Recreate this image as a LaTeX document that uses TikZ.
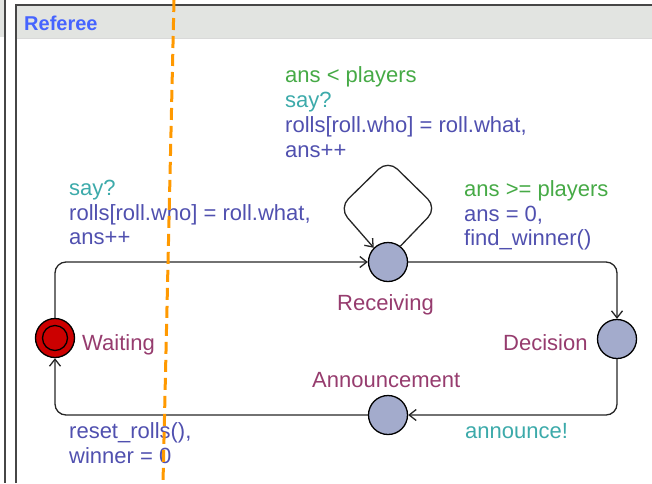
\documentclass[tikz,border=0pt]{standalone}
\usepackage{fontspec}
\setmainfont{Liberation Sans}
\usetikzlibrary{arrows.meta}

\definecolor{guardc}{RGB}{70,170,70}
\definecolor{syncc}{RGB}{60,170,170}
\definecolor{updc}{RGB}{80,80,175}
\definecolor{locc}{RGB}{150,60,110}
\definecolor{locfill}{RGB}{163,171,204}
\definecolor{initfill}{RGB}{204,0,0}
\definecolor{titlec}{RGB}{70,100,255}
\definecolor{headc}{RGB}{226,228,225}
\definecolor{framec}{RGB}{70,70,70}
\definecolor{cutc}{RGB}{255,153,0}

\begin{document}
\begin{tikzpicture}[x=1pt,y=-1pt,
  txt/.style={anchor=base west, inner sep=0pt, font=\fontsize{22}{25}\selectfont},
  locname/.style={txt, text=locc},
  guard/.style={txt, text=guardc},
  sync/.style={txt, text=syncc},
  upd/.style={txt, text=updc},
  loc/.style={circle, draw=black, line width=1.3pt, fill=locfill, minimum size=39pt, inner sep=0pt},
  initloc/.style={loc, fill=initfill},
  edge/.style={draw=black!85, line width=1.3pt, rounded corners=11pt,
    -{Straight Barb[length=7pt,width=11pt]}},
  framel/.style={draw=framec, line width=1.5pt},
  cut/.style={draw=cutc, line width=3pt, dash pattern=on 12pt off 6pt}]

\useasboundingbox (0,0) rectangle (652,483);

% window frame and header of the Referee template
\fill[headc] (0,0) rectangle (5,37);
\fill[headc] (16,5) rectangle (652,38);
\draw[black!15, line width=0.8pt] (16,38.5) -- (652,38.5);
\draw[framel] (5,0) -- (5,483);
\draw[framel] (16,483) -- (16,5) -- (652,5);
\node[anchor=base west, inner sep=0pt, text=titlec, font=\fontsize{20}{22}\selectfont\bfseries] (title) at (24,30) {Referee};

% locations
\node[initloc] (wait) at (55,338) {};
\draw[line width=1.3pt] (wait.center) circle (12.5);
\node[loc] (rcv) at (388,262) {};
\node[loc] (dec) at (617,339) {};
\node[loc] (ann) at (388,415) {};

\node[locname] (nwait) at (82,350) {Waiting};
\node[locname] (nrcv) at (337,310) {Receiving};
\node[locname] (ndec) at (503,350) {Decision};
\node[locname] (nann) at (312,387) {Announcement};

% transitions
\draw[edge] (wait.north) |- (rcv.west);
\draw[edge] (rcv.east) -| (dec.north);
\draw[edge] (dec.south) |- (ann.east);
\draw[edge] (ann.west) -| (wait.south);

\coordinate (lpR) at (437,208);
\coordinate (lpT) at (388,160);
\coordinate (lpL) at (339,208);
\draw[edge, rounded corners=13pt] (rcv.52) -- (lpR) -- (lpT) -- (lpL) -- (rcv.135);

% self-loop labels
\node[guard] (g1) at (285,82) {ans < players};
\node[sync] (s1) at (285,107) {say?};
\node[upd] (u1a) at (285,132) {rolls[roll.who] = roll.what,};
\node[upd] (u1b) at (285,157) {ans++};

% Waiting -> Receiving labels
\node[sync] (s2) at (69,195) {say?};
\node[upd] (u2a) at (69,220) {rolls[roll.who] = roll.what,};
\node[upd] (u2b) at (69,244) {ans++};

% Receiving -> Decision labels
\node[guard] (g3) at (464,196) {ans >= players};
\node[upd] (u3a) at (464,221) {ans = 0,};
\node[upd] (u3b) at (464,245) {find\_winner()};

% Decision -> Announcement label
\node[sync] (s4) at (465,438) {announce!};

% Announcement -> Waiting labels
\node[upd] (u5a) at (69,438) {reset\_rolls(),};
\node[upd] (u5b) at (69,463) {winner = 0};

% cut marker
\coordinate (cutT) at (174,0);
\coordinate (cutB) at (163,483);
\draw[cut] (cutT) -- (cutB);

\end{tikzpicture}
\end{document}
